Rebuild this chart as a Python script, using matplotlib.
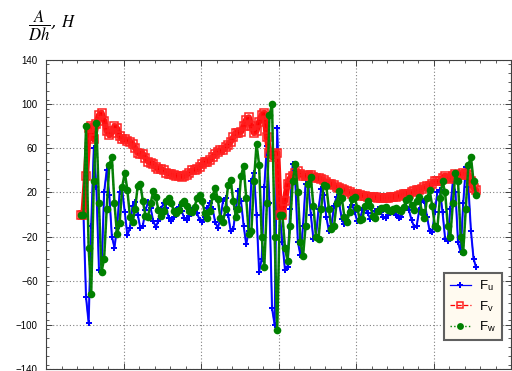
import numpy as np
import matplotlib
matplotlib.use("Agg")
import matplotlib.pyplot as plt
from matplotlib.ticker import MultipleLocator, NullFormatter

# sampling grid of the three curves (arbitrary units, 6 major divisions on the axis)
x_start, x_step = 54, 4

F_u = [
    0, 0, -75, -98, -10, 60, 25, -50, -52, 20,
    40, 18, -20, -30, -12, 20, 22, 2, -19, -12,
    8, 11, 0, -12, -10, 4, 11, 6, -6, -11,
    -6, 5, 10, 6, -3, -6, -2, 4, 7, 3,
    -3, -5, -1, 4, 6, 1, -5, -7, -2, 6,
    10, 5, -7, -12, -4, 12, 15, 0, -15, -13,
    5, 21, 12, -10, -27, -15, 30, 38, 0, -52,
    -40, 25, 62, 10, -85, -100, 78, 0, -25, -50,
    -48, 5, 46, 30, -25, -37, -10, 28, 28, 0,
    -22, -20, 5, 23, 18, -2, -15, -10, 8, 16,
    10, -4, -9, -5, 7, 9, 2, -6, -4, 4,
    6, 1, -4, -3, 3, 5, 2, -2, -3, 0,
    3, 3, 0, -3, -2, 4, 7, 4, -5, -11,
    -10, 4, 13, 12, -2, -15, -16, 2, 20, 22,
    2, -22, -24, 5, 30, 20, -25, -34, 10, 43,
    25, -15, -40, -48,
]

F_v = [
    0, 0, 35, 78, 80, 68, 82, 90, 92, 85,
    76, 72, 74, 80, 78, 71, 68, 68, 67, 66,
    64, 60, 56, 55, 55, 51, 48, 47, 46, 43,
    41, 41, 40, 38, 37, 37, 36, 35, 35, 34,
    35, 36, 38, 40, 40, 41, 43, 46, 48, 48,
    49, 52, 55, 57, 58, 58, 61, 63, 66, 70,
    74, 74, 75, 80, 86, 88, 80, 74, 76, 84,
    90, 92, 70, 56, 52, 55, 56, 0, 0, 12,
    28, 33, 35, 38, 39, 37, 35, 35, 36, 36,
    34, 33, 33, 32, 31, 29, 28, 28, 27, 25,
    24, 23, 22, 21, 20, 19, 19, 19, 18, 17,
    17, 16, 16, 16, 16, 15, 15, 15, 15, 15,
    16, 16, 16, 17, 18, 19, 19, 19, 20, 21,
    22, 22, 23, 25, 26, 26, 28, 30, 30, 30,
    33, 35, 33, 32, 35, 37, 36, 36, 38, 37,
    36, 30, 24, 22,
]

F_w = [
    0, 0, 80, -30, -72, 30, 83, 10, -52, -40,
    5, 45, 52, 10, -18, -8, 25, 38, 22, -2,
    -7, 5, 26, 28, 12, -1, -2, 10, 21, 16,
    4, -1, 3, 12, 15, 10, 3, 1, 4, 10,
    12, 8, 3, 2, 7, 15, 18, 12, 1, -3,
    3, 17, 24, 14, -3, -7, 5, 27, 31, 12,
    -2, 5, 35, 44, 15, -18, -15, 30, 64, 45,
    -20, -48, 10, 90, 100, -20, -105, 0, 0, -30,
    -42, -10, 30, 46, 20, -25, -38, -10, 28, 34,
    8, -20, -22, 5, 27, 26, 5, -13, -10, 10,
    21, 15, -2, -7, 2, 14, 16, 6, -5, -4,
    8, 12, 8, -1, -3, 3, 6, 6, 7, 4,
    3, 5, 6, 4, 3, 7, 13, 15, 9, 4,
    12, 16, 2, -3, 15, 22, 8, -10, -12, 15,
    30, 20, -10, -20, 10, 38, 30, -20, -34, 5,
    45, 52, 30, 18,
]

labels = [r"F$_\mathregular{u}$", r"F$_\mathregular{v}$", r"F$_\mathregular{w}$"]

x = x_start + x_step * np.arange(len(F_u))

plt.rcParams["font.family"] = ["Liberation Sans", "DejaVu Sans"]
plt.rcParams["mathtext.fontset"] = "stix"

fig = plt.figure(figsize=(5.12, 3.71), dpi=100)
ax = fig.add_axes([46 / 512, 2 / 371, 465 / 512, 309 / 371])

# the original markers are so dense they merge into bands, so each series
# gets a wider unlabelled stroke underneath its marker line
ax.plot(x, F_u, color="#2020ff", lw=1.5, zorder=2.9)
ax.plot(x, F_u, color="#0000ff", lw=0.9, ls="-", marker="P", ms=4.5,
        mew=0, label=labels[0], zorder=3)
ax.plot(x, F_v, color="#ff1010", lw=4.5, solid_capstyle="round", zorder=3.5)
ax.plot(x, F_v, color="#ff0000", lw=0.9, ls="--", marker="s", ms=5.5,
        mfc="none", mec="#ff2020", mew=1.1, label=labels[1], zorder=4)
ax.plot(x, F_w, color="#0a800a", lw=1.8, zorder=4.9)
ax.plot(x, F_w, color="#008000", lw=1.0, ls=":", marker="o", ms=5.5,
        mew=0, label=labels[2], zorder=5)

ax.set_xlim(0, 720)
ax.set_ylim(-140, 140)
ax.xaxis.set_major_locator(MultipleLocator(120))
ax.xaxis.set_minor_locator(MultipleLocator(24))
ax.xaxis.set_major_formatter(NullFormatter())
ax.yaxis.set_minor_locator(MultipleLocator(8))
ax.set_yticks(np.arange(-140, 141, 40))

ax.tick_params(which="both", direction="in", top=True, right=True,
               colors="#404040", labelcolor="black", labelsize=7)
ax.tick_params(which="major", length=4, width=0.7, pad=6)
ax.tick_params(which="minor", length=2, width=0.6)
for s in ax.spines.values():
    s.set_color("#404040")
    s.set_linewidth(0.8)

ax.grid(True, which="major", ls=(0, (1, 2)), color="#808080", lw=0.8)
ax.set_axisbelow(True)

leg = ax.legend(loc="lower right", bbox_to_anchor=(0.98, 0.094),
                borderaxespad=0, fancybox=False, fontsize=9.5,
                handlelength=1.6, labelspacing=0.42, borderpad=0.45,
                handletextpad=0.6, markerscale=0.9)
leg.get_frame().set_facecolor("#fffaf0")
leg.get_frame().set_edgecolor("#606060")
leg.get_frame().set_linewidth(1.5)
leg.get_frame().set_alpha(1)

fig.text(0.055, 0.93, r"$\dfrac{A}{Dh}$, $H$", fontsize=12, va="center",
         ha="left", family="serif", style="italic")

fig.savefig("out.png", dpi=100)
